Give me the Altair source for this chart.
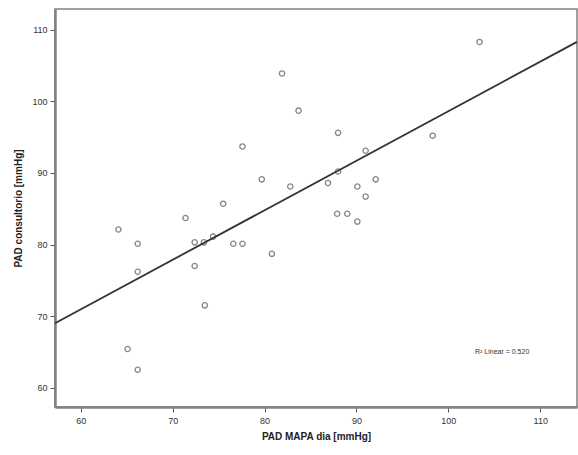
import altair as alt
import pandas as pd

pad_mapa = [103.4, 81.9, 83.7, 77.6, 88.0, 91.0, 98.3, 79.7, 75.5, 82.8, 86.9, 88.0,
            92.1, 90.1, 91.0, 71.4, 64.1, 66.2, 72.4, 73.4, 74.4, 76.6, 77.6, 66.2,
            72.4, 80.8, 87.9, 89.0, 90.1, 73.5, 65.1, 66.2]
pad_cons = [108.3, 103.9, 98.7, 93.7, 95.6, 93.1, 95.2, 89.1, 85.7, 88.1, 88.6, 90.2,
            89.1, 88.1, 86.7, 83.7, 82.1, 80.1, 80.3, 80.3, 81.1, 80.1, 80.1, 76.2,
            77.0, 78.7, 84.3, 84.3, 83.2, 71.5, 65.4, 62.5]

x_ticks = [60, 70, 80, 90, 100, 110]
y_ticks = [60, 70, 80, 90, 100, 110]
x_domain = [57.2, 114.0]
y_domain = [57.3, 112.9]

note_x = [102.9]
note_y = [65.0]
note_text = ["R² Linear = 0.520"]

df = pd.DataFrame({"x": pad_mapa, "y": pad_cons})
note = pd.DataFrame({"x": note_x, "y": note_y, "t": note_text})

xs = alt.Scale(domain=x_domain, nice=False, zero=False)
ys = alt.Scale(domain=y_domain, nice=False, zero=False)

xax = alt.Axis(values=x_ticks, title="PAD MAPA dia [mmHg]", grid=False,
               domainColor="#808080", domainWidth=2.5, tickColor="#555555",
               tickSize=5, labelFontSize=9, labelColor="#333333",
               titleFontSize=10, titleFontWeight="bold", titleColor="#222222",
               titlePadding=6, labelPadding=4, format="d")
yax = alt.Axis(values=y_ticks, title="PAD consultorio [mmHg]", grid=False,
               domainColor="#808080", domainWidth=2.5, tickColor="#555555",
               tickSize=5, labelFontSize=9, labelColor="#333333",
               titleFontSize=10, titleFontWeight="bold", titleColor="#222222",
               titlePadding=8, labelPadding=3, format="d")

base = alt.Chart(df)

pts = base.mark_point(shape="circle", filled=False, size=28, color="#555555",
                      strokeWidth=1.3).encode(
    x=alt.X("x:Q", scale=xs, axis=xax),
    y=alt.Y("y:Q", scale=ys, axis=yax),
)

line = base.transform_regression("x", "y", extent=x_domain).mark_line(
    color="#333333", strokeWidth=1.8, clip=True).encode(
    x=alt.X("x:Q", scale=xs),
    y=alt.Y("y:Q", scale=ys),
)

txt = alt.Chart(note).mark_text(align="left", baseline="middle", fontSize=7,
                                color="#333333").encode(
    x=alt.X("x:Q", scale=xs), y=alt.Y("y:Q", scale=ys), text="t:N")

chart = alt.layer(pts, line, txt).properties(
    width=522, height=398,
    autosize=alt.AutoSizeParams(type="none"),
    padding={"left": 55, "top": 9, "right": 1, "bottom": 48},
).configure_view(stroke="#808080", strokeWidth=1.5).configure_axis(
    labelFont="Liberation Sans", titleFont="Liberation Sans")

chart.save("out.html", embed_options={"renderer": "svg", "actions": False})
